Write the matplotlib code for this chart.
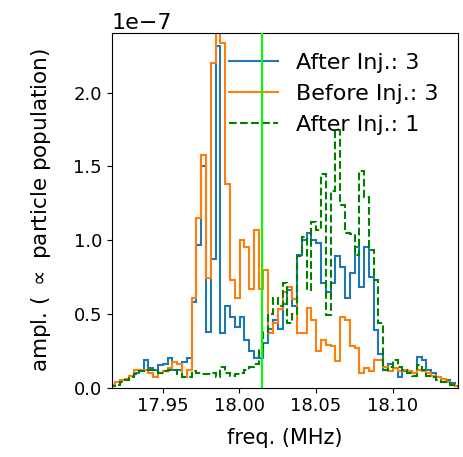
import numpy as np
import matplotlib
matplotlib.use("Agg")
import matplotlib.pyplot as plt
from matplotlib.lines import Line2D

# histogram bins (MHz)
f_start = 17.9157
bin_width = 0.003127
n_bins = 73
edges = f_start + bin_width * np.arange(n_bins + 1)
bin_left = edges[:-1]

# amplitudes in units of 1e-7
after_inj_3 = [0.02, 0.04, 0.05, 0.06, 0.08, 0.10, 0.12, 0.19, 0.13, 0.12,
               0.15, 0.16, 0.20, 0.12, 0.12, 0.17, 0.20, 0.58, 0.97, 1.50,
               0.38, 0.87, 2.32, 0.37, 0.55, 0.48, 0.41, 0.48, 0.32, 0.25,
               0.20, 0.20, 0.30, 0.40, 0.46, 0.40, 0.57, 0.66, 0.55, 0.90,
               1.00, 1.05, 1.00, 0.98, 0.71, 0.65, 0.71, 0.89, 0.82, 0.61,
               0.78, 0.95, 0.68, 0.95, 0.75, 0.39, 0.23, 0.12, 0.16, 0.13,
               0.07, 0.11, 0.11, 0.10, 0.21, 0.19, 0.12, 0.10, 0.07, 0.06,
               0.05, 0.03, 0.01]
before_inj_3 = [0.02, 0.04, 0.05, 0.06, 0.08, 0.12, 0.12, 0.12, 0.10, 0.07,
                0.10, 0.11, 0.13, 0.17, 0.16, 0.07, 0.12, 0.61, 1.15, 1.58,
                0.74, 2.20, 2.70, 2.34, 1.38, 0.73, 0.61, 1.00, 0.95, 0.67,
                1.07, 0.67, 0.80, 0.37, 0.44, 0.53, 0.65, 0.68, 0.60, 0.37,
                0.37, 0.54, 0.46, 0.25, 0.32, 0.29, 0.28, 0.18, 0.48, 0.46,
                0.28, 0.27, 0.10, 0.13, 0.11, 0.19, 0.19, 0.14, 0.11, 0.13,
                0.11, 0.12, 0.11, 0.10, 0.12, 0.11, 0.10, 0.08, 0.07, 0.06,
                0.04, 0.02, 0.01]
after_inj_1 = [0.01, 0.02, 0.04, 0.05, 0.07, 0.09, 0.11, 0.12, 0.12, 0.12,
               0.10, 0.11, 0.12, 0.12, 0.09, 0.07, 0.07, 0.11, 0.10, 0.09,
               0.09, 0.10, 0.07, 0.14, 0.10, 0.08, 0.09, 0.10, 0.12, 0.14,
               0.16, 0.26, 0.38, 0.50, 0.61, 0.55, 0.71, 0.44, 0.50, 0.89,
               1.02, 0.66, 1.12, 1.07, 1.45, 0.49, 1.33, 1.75, 1.24, 1.05,
               1.04, 0.90, 1.47, 1.29, 0.93, 0.73, 0.44, 0.12, 0.14, 0.19,
               0.14, 0.12, 0.10, 0.08, 0.15, 0.12, 0.08, 0.07, 0.05, 0.04,
               0.03, 0.02, 0.01]

labels = ['After Inj.: 3', 'Before Inj.: 3', 'After Inj.: 1']
colors = ['C0', 'C1', 'green']
styles = ['-', '-', '--']

f_marker = 18.0146
scale = 1e-7

fig = plt.figure(figsize=(4.64, 4.57), dpi=100)
ax = fig.add_axes([0.2407, 0.152, 0.747, 0.7758])

handles = []
for vals, lab, col, ls in zip([after_inj_3, before_inj_3, after_inj_1],
                              labels, colors, styles):
    ax.hist(bin_left, bins=edges, weights=np.array(vals) * scale,
            histtype='step', lw=1.5, color=col, ls=ls)
    handles.append(Line2D([], [], color=col, ls=ls, lw=1.5, label=lab))
ax.axvline(f_marker, color='lime', lw=1.5, zorder=6)

ax.set_xlim(17.9167, 18.1429)
ax.set_ylim(0, 2.405e-7)
ax.set_xticks([17.95, 18.00, 18.05, 18.10])
ax.set_xticklabels(['17.95', '18.00', '18.05', '18.10'])
ax.tick_params(labelsize=13)
ax.yaxis.get_offset_text().set_fontsize(16)
ax.set_xlabel('freq. (MHz)', fontsize=15, labelpad=9)
ax.set_ylabel(r'ampl. ( $\propto$ particle population)', fontsize=15.5, labelpad=15)
ax.legend(handles=handles, loc='upper right', frameon=False, fontsize=16,
          handlelength=2.2)

fig.savefig('out.png', dpi=100)
